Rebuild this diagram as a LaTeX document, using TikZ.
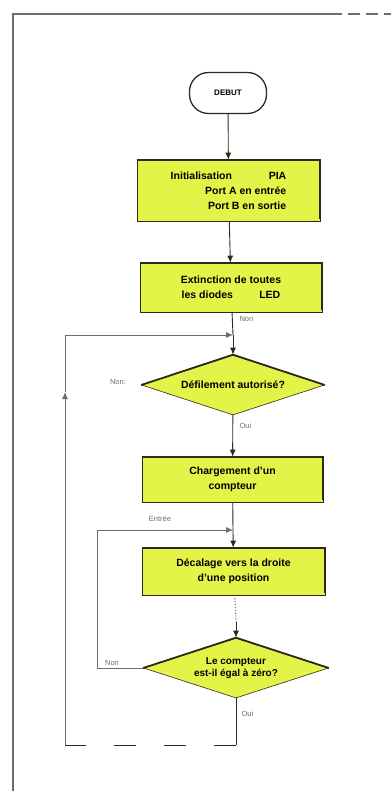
\documentclass[tikz,border=0pt]{standalone}
\usepackage{fontspec}
\setmainfont{Liberation Sans}
\usepackage{tikz}
\usetikzlibrary{arrows.meta,shapes.geometric}

\definecolor{ink}{RGB}{45,42,28}
\definecolor{lamp}{RGB}{228,243,72}
\definecolor{faint}{RGB}{110,110,100}

\begin{document}
\begin{tikzpicture}[x=1pt,y=-1pt]
    \useasboundingbox (0,0) rectangle (391,791);

    % page frame
    \draw[faint, line width=1.4pt] (13,791) -- (13,14) -- (330,14);
    \draw[faint, line width=1.4pt, dash pattern=on 12pt off 6pt] (330,14) -- (391,14);

    \begin{scope}[every node/.style={fill=lamp, draw=ink, line width=0.6pt, align=center,
                  font=\fontsize{10.5}{15}\selectfont\bfseries}]
        \node[rectangle, rounded corners=19pt, fill=white, line width=1.3pt,
              minimum width=77pt, minimum height=41pt, font=\fontsize{8}{9}\selectfont\bfseries]
              (start) at (228,93) {DEBUT};
        \node[rectangle, minimum width=183pt, minimum height=61pt, align=right] (init) at (228.5,190.5)
              {Initialisation\hspace{3.5em}PIA\\Port A en entrée\\Port B en sortie};
        \node[rectangle, minimum width=182pt, minimum height=49pt] (leds) at (231,287.5)
              {Extinction de toutes\\les diodes\hspace{2.5em}LED};
        \node[diamond, aspect=3, inner sep=0pt, minimum width=183pt, minimum height=60pt] (d1) at (233,385)
              {Défilement autorisé?};
        \node[rectangle, minimum width=181pt, minimum height=45pt] (load) at (232.5,479.5)
              {Chargement d'un\\compteur};
        \node[rectangle, minimum width=183pt, minimum height=47pt] (shift) at (233.5,571.5)
              {Décalage vers la droite\\d'une position};
        \node[diamond, aspect=3, inner sep=0pt, minimum width=185pt, minimum height=60pt,
              font=\fontsize{10}{12}\selectfont\bfseries] (d2) at (236,668)
              {Le compteur\\est-il égal à zéro?};
    \end{scope}

    % heavy top and right edges
    \foreach \n in {init,leds,load,shift}
        \draw[ink, line width=1.8pt] (\n.north west) -- (\n.north east) -- ([yshift=2pt]\n.south east);
    \foreach \n in {d1,d2}
        \draw[ink, line width=1.8pt] (\n.west) -- (\n.north) -- (\n.east);

    \coordinate (j1) at (233,335);
    \coordinate (j2) at (233,530);
    \coordinate (j3) at (236,622);
    \coordinate (c1) at (236,745);
    \coordinate (c2) at (65,745);
    \coordinate (up) at (65,392);
    \coordinate (c3) at (65,335);
    \coordinate (i1) at (97,668);
    \coordinate (i2) at (97,530);

    \begin{scope}[->,>={Latex[length=7pt,width=6pt]}, ink, line width=0.9pt]
        \draw (start) -- (init);
        \draw (init) -- (leds);
        \draw[-] (leds) -- (j1);
        \draw (j1) -- (d1);
        \draw (d1) -- (load);
        \draw[-] (load) -- (j2);
        \draw (j2) -- (shift);
        \draw[-, dotted] (shift) -- (j3);
        \draw (j3) -- (d2);
        % loop back to the test on scrolling
        \draw[-] (d2.south) -- (c1);
        \draw[-, dash pattern=on 22pt off 28pt] (c1) -- (c2);
        \draw[faint] (c2) -- (up);
        \draw[faint] (up) -- (c3) -- (j1);
        % loop back to the shift
        \draw[faint, line width=0.7pt] (d2.west) -- (i1) -- (i2) -- (j2);
    \end{scope}

    \begin{scope}[every node/.style={text=faint, font=\fontsize{7.5}{8}\selectfont}]
        \node[anchor=west] (l1) at (236,319) {Non};
        \node (l2) at (118,382) {Non:};
        \node[anchor=west] (l3) at (236,426) {Oui};
        \node (l4) at (160,519) {Entrée};
        \node (l5) at (112,663) {Non};
        \node[anchor=west] (l6) at (238,714) {Oui};
    \end{scope}
\end{tikzpicture}
\end{document}
